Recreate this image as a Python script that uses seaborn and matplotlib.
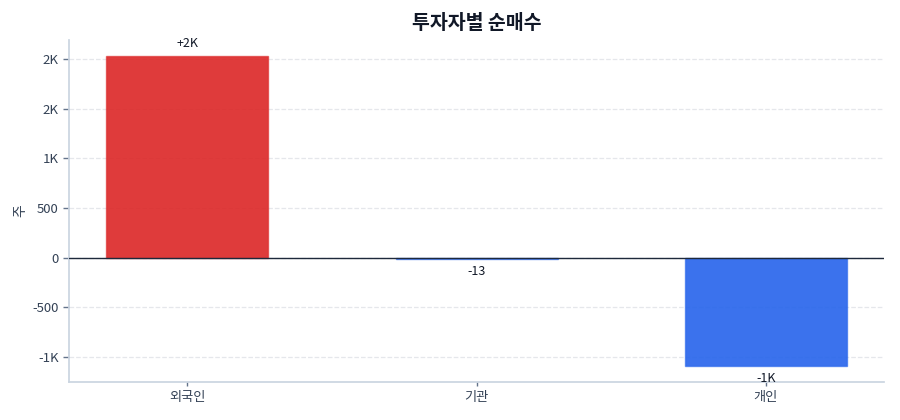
import matplotlib
matplotlib.use("Agg")
import matplotlib.pyplot as plt
import seaborn as sns
import pandas as pd
from matplotlib.colors import to_rgba
from matplotlib.ticker import FuncFormatter

# 데이터
investors = ["외국인", "기관", "개인"]
net_buy = [2030, -13, -1090]
bar_labels = ["+2K", "-13", "-1K"]
y_ticks = [-1000, -500, 0, 500, 1000, 1500, 2000]

POS_COLOR = "#dc2626"
NEG_COLOR = "#2563eb"


def fmt_k(v, pos=None):
    if abs(v) >= 1000:
        return f"{v / 1000:.0f}K"
    return f"{v:.0f}"


sns.set_theme(style="white")
plt.rcParams["font.family"] = ["Noto Sans CJK KR", "DejaVu Sans"]
plt.rcParams["axes.unicode_minus"] = False

df = pd.DataFrame({"investor": investors, "value": net_buy})
colors = [POS_COLOR if v >= 0 else NEG_COLOR for v in net_buy]

fig, ax = plt.subplots(figsize=(9, 4.2), dpi=100)
sns.barplot(data=df, x="investor", y="value", hue="investor", palette=colors,
            legend=False, width=0.56, saturation=1, ax=ax, linewidth=1)
for patch, c in zip(ax.patches, colors):
    patch.set_alpha(None)
    patch.set_facecolor(to_rgba(c, 0.9))
    patch.set_edgecolor(to_rgba(c, 0.6))
ax.margins(x=0.05)

ax.axhline(0, color="#1e293b", linewidth=1, zorder=3)

# 막대 라벨
for patch, v, lab in zip(ax.patches, net_buy, bar_labels):
    x = patch.get_x() + patch.get_width() / 2
    if v >= 0:
        ax.annotate(lab, (x, v), xytext=(0, 4), textcoords="offset points",
                    ha="center", va="bottom", fontsize=9, color="#111827")
    else:
        ax.annotate(lab, (x, v), xytext=(0, -4), textcoords="offset points",
                    ha="center", va="top", fontsize=9, color="#111827")

ax.set_ylim(min(net_buy) * 1.15, max(net_buy) * 1.08)
ax.set_yticks(y_ticks)
ax.yaxis.set_major_formatter(FuncFormatter(fmt_k))
ax.grid(axis="y", linestyle="--", color="#e5e7eb", linewidth=0.9)
ax.set_axisbelow(True)

ax.set_title("투자자별 순매수", fontsize=14, fontweight="bold", color="#111827", pad=8)
ax.set_xlabel("")
ax.set_ylabel("주", fontsize=10, color="#334155")

for side in ["top", "right"]:
    ax.spines[side].set_visible(False)
for side in ["left", "bottom"]:
    ax.spines[side].set_color("#cbd5e1")
ax.tick_params(axis="both", bottom=True, left=True, colors="#64748b",
               labelcolor="#334155", labelsize=9.5, length=4, width=1)
ax.tick_params(axis="x", length=3)

plt.subplots_adjust(left=0.077, right=0.982, top=0.905, bottom=0.09)
plt.savefig("out.png", dpi=100)
